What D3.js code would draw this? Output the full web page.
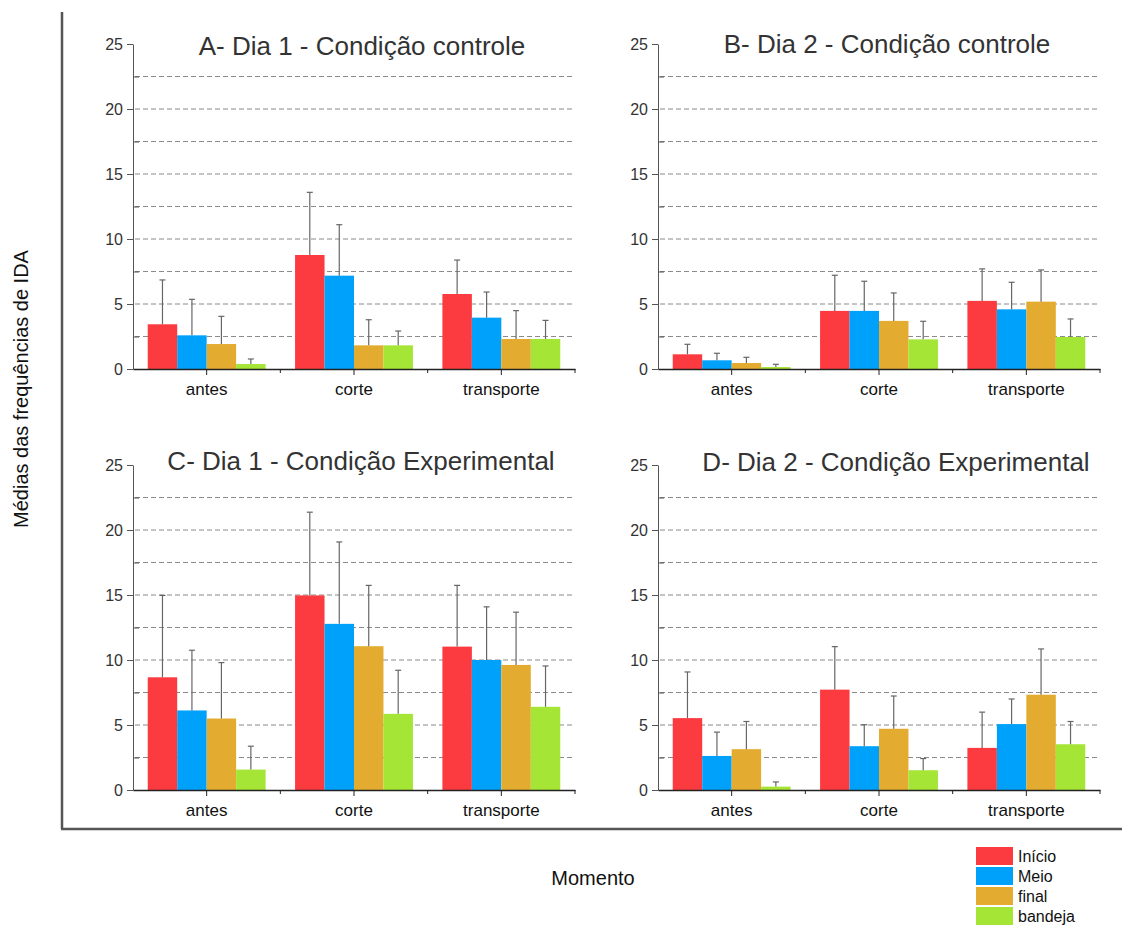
<!DOCTYPE html>
<html>
<head>
<meta charset="utf-8">
<script src="https://cdn.jsdelivr.net/npm/d3@7"></script>
<style>
  body { margin: 0; background: #fff; }
  svg { font-family: "Liberation Sans", Arial, sans-serif; }
</style>
</head>
<body>
<script>
// categorias e séries
const momentos = ['antes', 'corte', 'transporte'];
const fases = ['Início', 'Meio', 'final', 'bandeja'];

// médias (linhas = momento, colunas = fase)
const mediasA = [[3.44, 2.59, 1.92, 0.38], [8.77, 7.18, 1.82, 1.82], [5.77, 3.95, 2.31, 2.31]];
const dpA     = [[3.41, 2.77, 2.13, 0.39], [4.82, 3.92, 1.97, 1.10], [2.61, 1.97, 2.18, 1.43]];
const mediasB = [[1.13, 0.67, 0.46, 0.15], [4.47, 4.47, 3.70, 2.28], [5.24, 4.59, 5.18, 2.46]];
const dpB     = [[0.77, 0.54, 0.44, 0.21], [2.74, 2.28, 2.15, 1.39], [2.46, 2.08, 2.44, 1.39]];
const mediasC = [[8.67, 6.12, 5.50, 1.57], [14.97, 12.78, 11.06, 5.86], [11.03, 10.00, 9.62, 6.40]];
const dpC     = [[6.30, 4.63, 4.30, 1.80], [6.40, 6.30, 4.68, 3.35], [4.71, 4.09, 4.06, 3.14]];
const mediasD = [[5.53, 2.62, 3.14, 0.26], [7.72, 3.37, 4.71, 1.52], [3.24, 5.07, 7.33, 3.52]];
const dpD     = [[3.55, 1.83, 2.13, 0.36], [3.31, 1.65, 2.52, 0.90], [2.75, 1.93, 3.52, 1.75]];

const titulos = ['A- Dia 1 - Condição controle', 'B- Dia 2 - Condição controle',
                 'C- Dia 1 - Condição Experimental', 'D- Dia 2 - Condição Experimental'];
const yTicks = [0, 5, 10, 15, 20, 25];
const yMinor = [2.5, 7.5, 12.5, 17.5, 22.5];
const yGrid = [2.5, 5, 7.5, 10, 12.5, 15, 17.5, 20, 22.5];

const cores = ['#fb3b3f', '#00a1fb', '#e3ab30', '#a4e535'];

const svg = d3.select('body').append('svg').attr('width', 1122).attr('height', 929);

// moldura externa
svg.append('line').attr('x1', 62).attr('x2', 62).attr('y1', 12).attr('y2', 829)
  .attr('stroke', '#555').attr('stroke-width', 2.5);
svg.append('line').attr('x1', 61).attr('x2', 1122).attr('y1', 829).attr('y2', 829)
  .attr('stroke', '#555').attr('stroke-width', 2.5);

const paineis = [
  { medias: mediasA, dp: dpA, titulo: titulos[0], x0: 133, y0: 369, tx: 362, ty: 55 },
  { medias: mediasB, dp: dpB, titulo: titulos[1], x0: 658, y0: 369, tx: 887, ty: 53 },
  { medias: mediasC, dp: dpC, titulo: titulos[2], x0: 133, y0: 790, tx: 361, ty: 470 },
  { medias: mediasD, dp: dpD, titulo: titulos[3], x0: 658, y0: 790, tx: 896, ty: 471 }
];

function desenhaPainel (p) {
  const W = 442, H = 325;
  const g = svg.append('g');
  const x = d3.scaleBand().domain(momentos).range([p.x0, p.x0 + W]);
  const xs = d3.scaleBand().domain(fases).range([x.bandwidth() * 0.1, x.bandwidth() * 0.9]);
  const y = d3.scaleLinear().domain([0, 25]).range([p.y0, p.y0 - H]);

  // linhas de grade tracejadas
  g.append('g').selectAll('line').data(yGrid).join('line')
    .attr('x1', p.x0 + 2).attr('x2', p.x0 + W)
    .attr('y1', d => y(d)).attr('y2', d => y(d))
    .attr('stroke', '#8a8a8a').attr('stroke-dasharray', '5,3');

  // barras
  const grupos = g.append('g').selectAll('g').data(momentos).join('g')
    .attr('transform', d => `translate(${x(d)},0)`);
  grupos.selectAll('rect')
    .data((m, i) => fases.map((f, j) => ({ f: f, v: p.medias[i][j], e: p.dp[i][j], c: cores[j] })))
    .join('rect')
    .attr('x', d => xs(d.f)).attr('width', xs.bandwidth())
    .attr('y', d => y(d.v)).attr('height', d => y(0) - y(d.v))
    .attr('fill', d => d.c);

  // barras de erro (só para cima)
  const eb = grupos.selectAll('g.err')
    .data((m, i) => fases.map((f, j) => ({ f: f, v: p.medias[i][j], e: p.dp[i][j] })))
    .join('g').attr('class', 'err')
    .attr('stroke', '#666').attr('stroke-width', 1.2);
  eb.append('line')
    .attr('x1', d => xs(d.f) + xs.bandwidth() / 2).attr('x2', d => xs(d.f) + xs.bandwidth() / 2)
    .attr('y1', d => y(d.v)).attr('y2', d => y(d.v + d.e));
  eb.append('line')
    .attr('x1', d => xs(d.f) + xs.bandwidth() / 2 - 3).attr('x2', d => xs(d.f) + xs.bandwidth() / 2 + 3)
    .attr('y1', d => y(d.v + d.e)).attr('y2', d => y(d.v + d.e));

  // eixo y
  const yAxis = d3.axisLeft(y).tickValues(yTicks).tickSize(6).tickSizeOuter(0).tickPadding(4);
  const gy = g.append('g').attr('transform', `translate(${p.x0},0)`).call(yAxis);
  gy.select('.domain').attr('stroke', '#555');
  gy.selectAll('.tick line').attr('stroke', '#555');
  gy.selectAll('.tick text').attr('font-size', 16).attr('fill', '#333')
    .attr('font-family', '"Liberation Sans", Arial, sans-serif');
  const gym = g.append('g').attr('transform', `translate(${p.x0},0)`)
    .call(d3.axisRight(y).tickValues(yMinor).tickSize(6).tickFormat(''));
  gym.select('.domain').remove();
  gym.selectAll('.tick line').attr('stroke', '#555');

  // eixo x
  const xAxis = d3.axisBottom(x).tickSize(6).tickSizeOuter(0).tickPadding(8);
  const gx = g.append('g').attr('transform', `translate(0,${p.y0})`).call(xAxis);
  gx.select('.domain').attr('stroke', '#222').attr('stroke-width', 1.3);
  gx.selectAll('.tick line').attr('stroke', '#222');
  gx.selectAll('.tick text').attr('font-size', 17).attr('fill', '#111')
    .attr('font-family', '"Liberation Sans", Arial, sans-serif');
  const limites = momentos.slice(1).map(d => x(d)).concat([p.x0 + W]);
  gx.append('g').selectAll('line').data(limites).join('line')
    .attr('x1', d => d).attr('x2', d => d).attr('y1', 0).attr('y2', 4)
    .attr('stroke', '#222');

  // título
  g.append('text').attr('x', p.tx).attr('y', p.ty).attr('text-anchor', 'middle')
    .attr('font-size', 26).attr('fill', '#333').text(p.titulo);
}

paineis.forEach(desenhaPainel);

// rótulos dos eixos
svg.append('text').attr('transform', 'translate(28,389) rotate(-90)')
  .attr('text-anchor', 'middle').attr('font-size', 20).attr('fill', '#111')
  .text('Médias das frequências de IDA');
svg.append('text').attr('x', 593).attr('y', 885).attr('text-anchor', 'middle')
  .attr('font-size', 20).attr('fill', '#111').text('Momento');

// legenda
const leg = svg.append('g').selectAll('g').data(fases).join('g')
  .attr('transform', (d, i) => `translate(976,${847 + i * 20})`);
leg.append('rect').attr('width', 37).attr('height', 18).attr('fill', (d, i) => cores[i]);
leg.append('text').attr('x', 42).attr('y', 14.5).attr('font-size', 16).attr('fill', '#111').text(d => d);
</script>
</body>
</html>
